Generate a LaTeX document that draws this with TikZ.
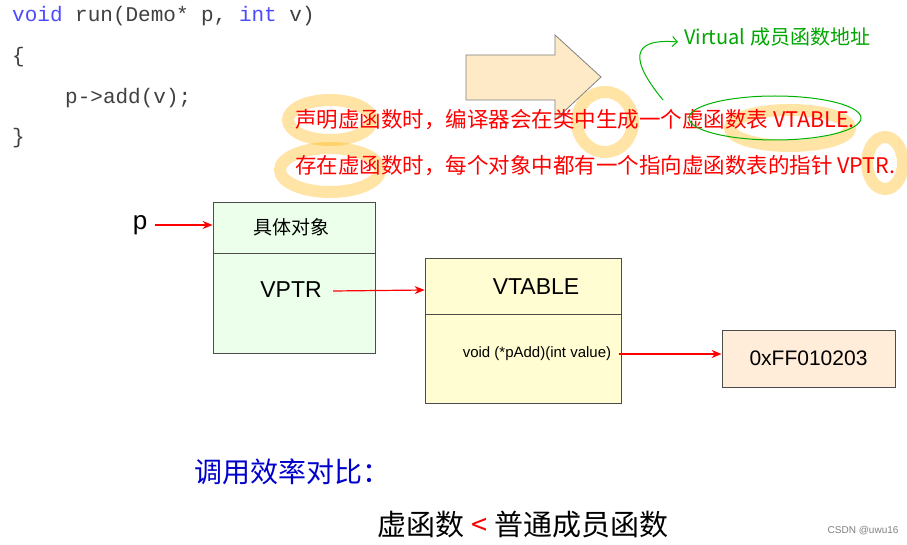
\documentclass[tikz,border=0pt]{standalone}
\usepackage{fontspec}
\setmainfont{Liberation Sans}
\newfontfamily\codefont{Liberation Mono}
\newfontfamily\cjk{Noto Sans CJK SC}
\usetikzlibrary{arrows.meta}
\begin{document}
\begin{tikzpicture}[x=1pt,y=-1pt,
  box/.style={draw=black!70,line width=0.8pt},
  redarr/.style={draw=red,line width=1.2pt,-{Stealth[length=10pt,width=8pt]}},
  code/.style={anchor=west,font=\codefont\fontsize{21}{24}\selectfont,text=black!75,inner sep=0},
  hand/.style={text=red,font=\cjk\fontsize{21.5}{24}\selectfont,inner sep=0,anchor=west},
  hl/.style={draw=orange!60!yellow,line width=12pt,opacity=0.35}]
\useasboundingbox[fill=white] (0,0) rectangle (907,545);
% code
\node[code] (c1) at (12,16) {\textcolor{blue!70}{void} run(Demo* p, \textcolor{blue!70}{int} v)};
\node[code] (c2) at (12,57) {\{};
\node[code] (c3) at (65,98) {p->add(v);};
\node[code] (c4) at (12,138) {\}};
% big arrow
\draw[fill=yellow!25!orange!20,draw=black!50,line width=0.8pt] (466,55)--(555,55)--(555,35)--(601,77)--(555,120)--(555,100)--(466,100)--cycle;
% highlights
\draw[hl] (330,120) ellipse (42 and 20);
\draw[hl] (605,122) ellipse (28 and 30);
\draw[hl] (330,170) ellipse (50 and 22);
\draw[hl] (790,128) ellipse (60 and 18);
\draw[hl] (885,163) ellipse (18 and 26);
% red handwriting
\node[hand] (h1) at (295,120) {声明虚函数时，编译器会在类中生成一个虚函数表 VTABLE.};
\node[hand] (h2) at (295,166) {存在虚函数时，每个对象中都有一个指向虚函数表的指针 VPTR.};
% green
\node[anchor=west,text=green!65!black,font=\cjk\fontsize{20}{22}\selectfont,inner sep=0] (g) at (684,37) {Virtual 成员函数地址};
\draw[green!70!black,line width=1pt] (775,118) ellipse (86 and 22);
\draw[green!70!black,line width=1pt,-{Straight Barb[length=5pt]}] (663,100) .. controls (630,60) and (630,38) .. (678,42);
% p and box1
\node[font=\fontsize{26}{28}\selectfont,inner sep=0] (p) at (140,225) {p};
\node[box,fill=green!8,minimum width=162pt,minimum height=151pt,inner sep=0] (b1) at (294,277.5) {};
\draw[black!70,line width=0.8pt] (213,253) -- (375,253);
\node[font=\cjk\fontsize{19}{22}\selectfont] (t1) at (291,227) {具体对象};
\node[font=\fontsize{23}{26}\selectfont] (vp) at (291,290) {VPTR};
\draw[redarr] (p.east)+(8,0) -- (b1.west|-p);
% box2
\node[box,fill=yellow!18,minimum width=196pt,minimum height=145pt,inner sep=0] (b2) at (523,330.5) {};
\draw[black!70,line width=0.8pt] (425,314) -- (621,314);
\node[font=\fontsize{23}{26}\selectfont] (vt) at (536,287) {VTABLE};
\node[font=\fontsize{15}{17}\selectfont] (fn) at (537,354) {void (*pAdd)(int value)};
\draw[redarr] (vp.east)+(8,1) -- (b2.west|-vp);
% box3
\node[box,fill=orange!15,minimum width=173pt,minimum height=57pt,inner sep=0,font=\fontsize{21}{24}\selectfont] (b3) at (808.5,358.5) {0xFF010203};
\draw[redarr] (fn.east)+(4,0) -- (b3.west|-fn);
% bottom
\node[text=blue!80!black,font=\cjk\fontsize{28}{32}\selectfont] (cmp) at (292,472) {调用效率对比：};
\node[font=\cjk\fontsize{29}{32}\selectfont] (res) at (523,525) {虚函数 \textcolor{red}{<} 普通成员函数};
\node[anchor=east,text=black!50,font=\fontsize{10}{11}\selectfont] (wm) at (902,531) {CSDN @uwu16};
\end{tikzpicture}
\end{document}
